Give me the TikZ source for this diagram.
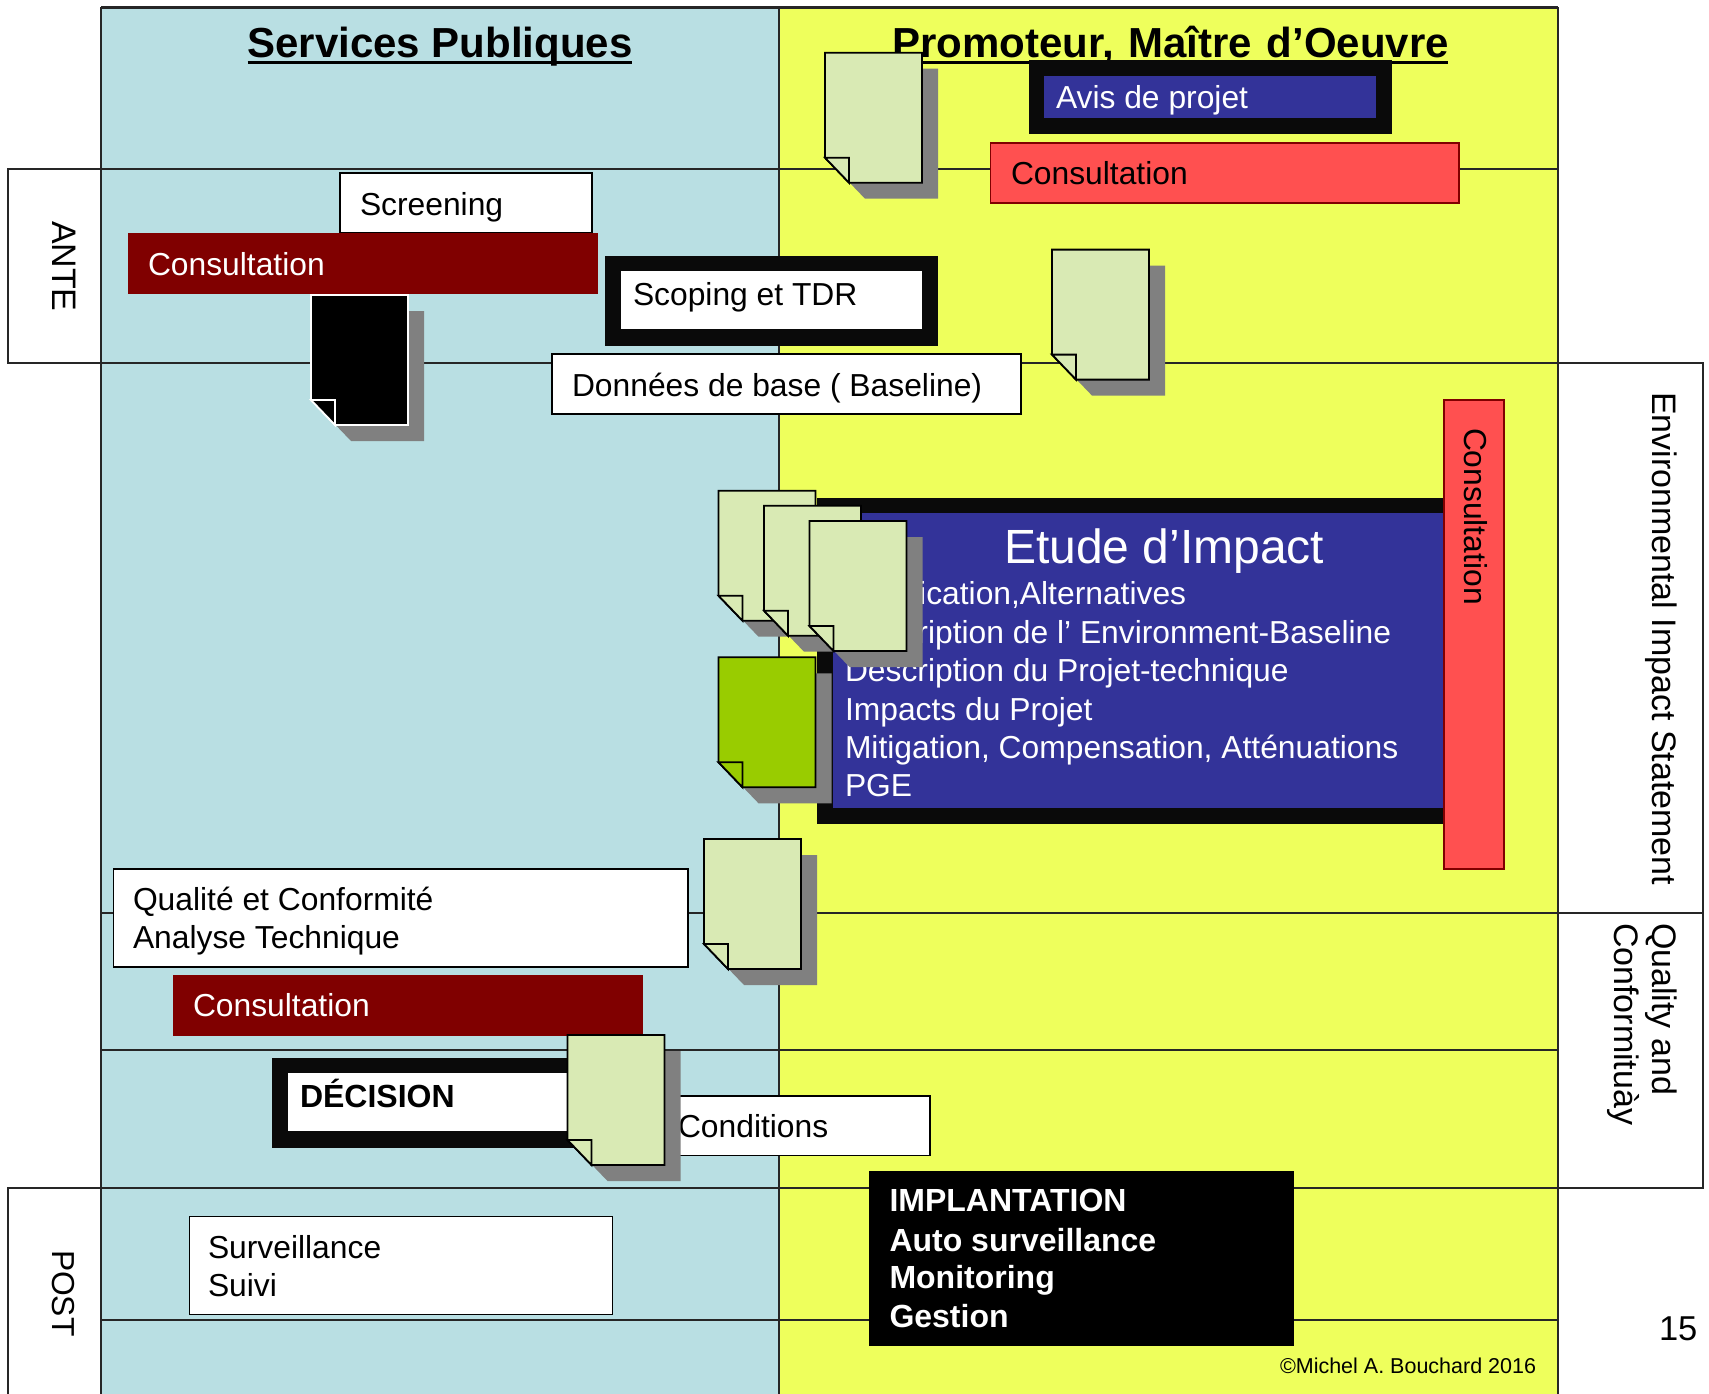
\documentclass[tikz,border=0pt]{standalone}
\usepackage{fontspec}
\setmainfont{Liberation Sans}
\definecolor{panelblue}{HTML}{B9DFE3}
\definecolor{panelyellow}{HTML}{EEFF5C}
\definecolor{navy}{HTML}{333399}
\definecolor{darkred}{HTML}{800000}
\definecolor{brightred}{HTML}{FF5050}
\definecolor{paper}{HTML}{D9EAB4}
\definecolor{leaf}{HTML}{99CC00}
\definecolor{shadowgrey}{HTML}{808080}
\definecolor{inkblack}{HTML}{0A0A0A}
\newcommand{\fs}[1]{\fontsize{#1}{#1}\selectfont}
\tikzset{
  x=1pt,y=-1pt,
  gridline/.style={draw=black!85,line width=2.7pt},
  label/.style={inner sep=0pt,outer sep=0pt,anchor=base west,font=\fs{31.8}},
  vlabel/.style={label,rotate=-90},
  sidelabel/.style={vlabel,font=\fs{34}},
  whitebox/.style={fill=white,draw=black,line width=1.8pt},
  darkbox/.style={fill=darkred,draw=none},
  redbox/.style={fill=brightred,draw=darkred,line width=1.8pt},
  heavyframe/.style={fill=inkblack,draw=none},
}
\newcommand{\docpage}[4]{%
  \begin{scope}[shift={(#1,#2)}]
    \fill[fill=shadowgrey] (16,16) -- (113,16) -- (113,146) -- (40,146) -- (16,121) -- cycle;
    \filldraw[fill=#3,draw=#4,line width=1.8pt,line join=miter]
      (0,0) -- (97,0) -- (97,130) -- (24,130) -- (0,105) -- cycle;
    \filldraw[fill=#3,draw=#4,line width=1.8pt,line join=miter]
      (0,105) -- (24,105) -- (24,130) -- cycle;
  \end{scope}}
\begin{document}
\begin{tikzpicture}
\useasboundingbox (0,0) rectangle (1709,1394);
\fill[white] (0,0) rectangle (1709,1394);
% panels
\fill[panelblue] (101,7.5) rectangle (779,1394);
\fill[panelyellow] (779,7.5) rectangle (1558,1394);
% side boxes
\draw[gridline] (8,169) rectangle (101,363);
\draw[gridline] (8,1394) -- (8,1188) -- (101,1188);
\draw[gridline] (1558,363) -- (1703,363) -- (1703,1188) -- (1558,1188);
\draw[gridline] (1558,913) -- (1703,913);
% grid
\draw[gridline] (101,7.5) -- (1558,7.5);
\draw[gridline] (101,7.5) -- (101,1394);
\draw[gridline] (779,7.5) -- (779,1394);
\draw[gridline] (1558,7.5) -- (1558,1394);
\draw[gridline] (101,169) -- (1558,169);
\draw[gridline] (101,363) -- (1558,363);
\draw[gridline] (101,913) -- (1558,913);
\draw[gridline] (101,1050) -- (1558,1050);
\draw[gridline] (101,1188) -- (1558,1188);
\draw[gridline] (101,1320) -- (1558,1320);
% headings
\node[label,font=\fs{42}\bfseries] (hservices) at (247.5,58) {Services Publiques};
\draw[line width=3pt] (247.5,63) -- (631.5,63);
\node[label,font=\fs{42}\bfseries] (hpromoteur) at (892,58) {Promoteur,\hspace{3pt} Maître\hspace{3pt} d’Oeuvre};
\draw[line width=3pt] (892,63) -- (1447.5,63);
% side labels
\node[sidelabel] (ante) at (52.5,221) {ANTE};
\node[vlabel] (post) at (52.5,1250) {POST};
\node[sidelabel] (eis) at (1652.5,392) {Environmental Impact Statement};
\node[sidelabel] (qual) at (1652.5,923) {Quality and};
\node[sidelabel] (conf) at (1614,923) {Conformituày};
\node[label,font=\fs{34.5}] (pageno) at (1659,1340) {15};
\node[label,font=\fs{21.5}] (copy) at (1280,1373) {©Michel A. Bouchard 2016};
% ante boxes
\filldraw[whitebox] (340,173) rectangle (592,233);
\node[label] (screening) at (360,215.5) {Screening};
\fill[darkbox] (127.5,233) rectangle (598,294);
\node[label,text=white] (cons1) at (148,275) {Consultation};
\fill[heavyframe] (605,256) rectangle (938,346);
\fill[white] (621,271) rectangle (922,329);
\node[label] (scoping) at (633,305) {Scoping et TDR};
\filldraw[whitebox] (552,354) rectangle (1021,414);
\node[label] (donnees) at (572,396) {Données de base ( Baseline)};
% avis
\fill[heavyframe] (1028.5,60) rectangle (1392,134);
\fill[navy] (1044,76) rectangle (1376,118);
\node[label,text=white] (avis) at (1056,109) {Avis de projet};
\filldraw[redbox] (990.5,143) rectangle (1459,203);
\node[label] (cons2) at (1011,185) {Consultation};
% etude
\fill[heavyframe] (816.7,497.7) rectangle (1450,824);
\fill[navy] (832.7,513.3) rectangle (1450,808);
\node[label,text=white,font=\fs{48}] (etude) at (1004,563) {Etude d’Impact};
\node[label,text=white] (e1) at (845,604) {Justification,Alternatives};
\node[label,text=white] (e2) at (845,643) {Description de l’ Environment-Baseline};
\node[label,text=white] (e3) at (845,681) {Description du Projet-technique};
\node[label,text=white] (e4) at (845,720.5) {Impacts du Projet};
\node[label,text=white] (e5) at (845,758.5) {Mitigation, Compensation, Atténuations};
\node[label,text=white] (e6) at (845,796) {PGE};
\filldraw[redbox] (1444,400) rectangle (1504,869);
\node[vlabel] (cons3) at (1464,428) {Consultation};
% qualite
\filldraw[whitebox] (113.5,869) rectangle (688,967);
\node[label] (q1) at (133,910) {Qualité et Conformité};
\node[label] (q2) at (133,948) {Analyse Technique};
\fill[darkbox] (173,974.5) rectangle (643,1035.5);
\node[label,text=white] (cons4) at (193,1016) {Consultation};
% decision
\fill[heavyframe] (272,1057.5) rectangle (600,1147.5);
\fill[white] (288,1073) rectangle (600,1131);
\node[label,font=\fs{32}\bfseries] (decision) at (300,1107) {DÉCISION};
\filldraw[whitebox] (660,1096) rectangle (930,1155.5);
\node[label] (conditions) at (678,1137) {Conditions};
% post
\filldraw[whitebox] (189.5,1216.5) rectangle (612.5,1314.5);
\node[label] (s1) at (208,1258) {Surveillance};
\node[label] (s2) at (208,1296) {Suivi};
\fill[black] (869,1171) rectangle (1294,1346);
\node[label,text=white,font=\fs{32}\bfseries] (i1) at (889.5,1211) {IMPLANTATION};
\node[label,text=white,font=\fs{32}\bfseries] (i2) at (889.5,1251) {Auto surveillance};
\node[label,text=white,font=\fs{32}\bfseries] (i3) at (889.5,1288) {Monitoring};
\node[label,text=white,font=\fs{32}\bfseries] (i4) at (889.5,1327.5) {Gestion};
% documents
\docpage{825}{52.7}{paper}{black}
\docpage{1052}{249.6}{paper}{black}
\docpage{311}{295}{black}{white}
\docpage{718.5}{657.3}{leaf}{black}
\docpage{718.5}{490.7}{paper}{black}
\docpage{764}{505.7}{paper}{black}
\docpage{809.5}{521}{paper}{black}
\docpage{704}{839}{paper}{black}
\docpage{567.5}{1035}{paper}{black}
\end{tikzpicture}
\end{document}
